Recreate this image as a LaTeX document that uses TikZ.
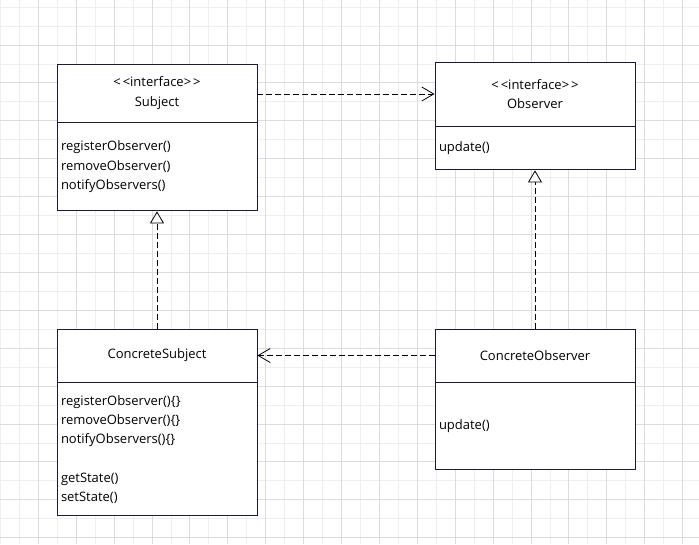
\documentclass[tikz,border=0pt]{standalone}
\usepackage{fontspec}
\setmainfont{Open Sans}
\usepackage{xcolor}
\usetikzlibrary{arrows.meta,positioning}
\definecolor{ink}{HTML}{1A1A3A}
\definecolor{gridd}{HTML}{DCDCDC}
\definecolor{gridl}{HTML}{EFEFEF}
\newcommand{\lt}{<\kern2pt<}
\newcommand{\gt}{>\kern2pt>}
\tikzset{
  cls/.style={draw=ink,fill=white,line width=0.9pt,minimum width=200pt,align=center,inner sep=0pt,font=\fontsize{13}{19.3}\selectfont},
  clsb/.style={cls,align=left,text width=192pt,inner sep=4pt},
  dep/.style={-{Straight Barb[length=12pt,width=14pt,line width=0.8pt]},line width=0.9pt,dash pattern=on 6pt off 3pt},
  real/.style={-{Triangle[open,length=12pt,width=14pt,line width=0.8pt,fill=white]},line width=0.9pt,dash pattern=on 6pt off 3pt},
  gline/.style={line width=0.9pt,color=gridd},
  gminor/.style={line width=0.9pt,color=gridl},
}
\begin{document}
\begin{tikzpicture}[x=1pt,y=-1pt]
\useasboundingbox (0,0) rectangle (699,544);
\fill[white] (0,0) rectangle (699,544);
% grid
\foreach \i in {0,...,18} {\draw[gminor] ({0.4+37.9*\i},0) -- ({0.4+37.9*\i},544);\draw[gminor] ({19.35+37.9*\i},0) -- ({19.35+37.9*\i},544);}
\foreach \i in {0,...,14} {\draw[gminor] (0,{7.1+37.9*\i}) -- (699,{7.1+37.9*\i});\draw[gminor] (0,{26.05+37.9*\i}) -- (699,{26.05+37.9*\i});}
\foreach \i in {0,...,17} {\draw[gline] ({38.3+37.9*\i},0) -- ({38.3+37.9*\i},544);}
\foreach \i in {0,...,13} {\draw[gline] (0,{45+37.9*\i}) -- (699,{45+37.9*\i});}
% classes
\node[cls,minimum height=58pt] (subj) at (157,93) {\lt interface\gt\\Subject};
\node[clsb,minimum height=88pt,below=0pt of subj] (subjb) {registerObserver()\\removeObserver()\\notifyObservers()};
\node[cls,minimum height=64pt] (obs) at (535,94) {\lt interface\gt\\Observer};
\node[clsb,minimum height=43pt,below=0pt of obs] (obsb) {update()};
\node[cls,minimum height=53pt] (csubj) at (157,355.5) {ConcreteSubject};
\node[clsb,minimum height=133pt,below=0pt of csubj] (csubjb) {registerObserver()\{\}\\removeObserver()\{\}\\notifyObservers()\{\}\\[19pt]getState()\\setState()};
\node[cls,minimum height=53pt] (cobs) at (535,355.5) {ConcreteObserver};
\node[clsb,minimum height=87pt,below=0pt of cobs] (cobsb) {update()};
% relations
\draw[dep] ([yshift=-1pt]subj.east) -- ([yshift=-1pt]subj.east -| obs.west);
\draw[dep] (cobs.west) -- (csubj.east);
\draw[real] (csubj.north) -- (subjb.south);
\draw[real] (cobs.north) -- (obsb.south);
\end{tikzpicture}
\end{document}
